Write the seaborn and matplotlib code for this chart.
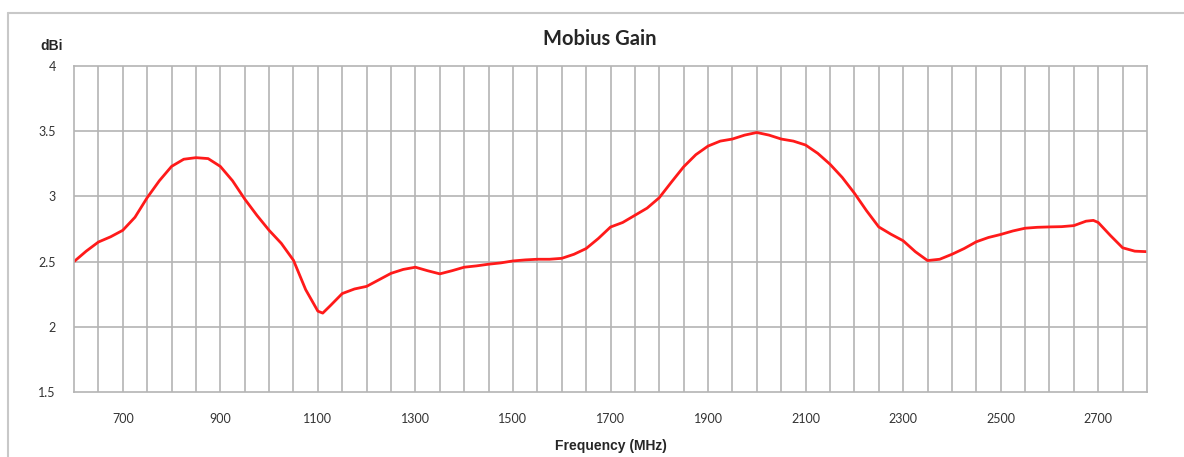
import numpy as np
import pandas as pd
import matplotlib
matplotlib.use("Agg")
import matplotlib.pyplot as plt
import seaborn as sns
from matplotlib.lines import Line2D

# values (MHz, dBi)
freq = [600, 625, 650, 675, 700, 725, 750, 775, 800, 825, 850, 875, 900, 925,
        950, 975, 1000, 1025, 1050, 1075, 1100, 1110, 1125, 1150, 1175, 1200,
        1225, 1250, 1275, 1300, 1325, 1350, 1375, 1400, 1425, 1450, 1475, 1500,
        1525, 1550, 1575, 1600, 1625, 1650, 1675, 1700, 1725, 1750, 1775, 1800,
        1825, 1850, 1875, 1900, 1925, 1950, 1975, 2000, 2025, 2050, 2075, 2100,
        2125, 2150, 2175, 2200, 2225, 2250, 2275, 2300, 2325, 2350, 2375, 2400,
        2425, 2450, 2475, 2500, 2525, 2550, 2575, 2600, 2625, 2650, 2675, 2690,
        2700, 2725, 2750, 2775, 2800]
gain = [2.50, 2.58, 2.65, 2.69, 2.74, 2.84, 2.99, 3.12, 3.23, 3.285, 3.297, 3.29, 3.23, 3.12,
        2.98, 2.855, 2.74, 2.64, 2.51, 2.285, 2.12, 2.105, 2.16, 2.255, 2.29, 2.31,
        2.36, 2.41, 2.44, 2.457, 2.43, 2.406, 2.43, 2.457, 2.467, 2.48, 2.49, 2.505,
        2.513, 2.518, 2.518, 2.525, 2.556, 2.60, 2.677, 2.765, 2.80, 2.855, 2.91, 2.99,
        3.11, 3.227, 3.32, 3.386, 3.424, 3.44, 3.47, 3.49, 3.47, 3.44, 3.424, 3.394,
        3.33, 3.247, 3.146, 3.025, 2.89, 2.766, 2.71, 2.66, 2.576, 2.508, 2.518, 2.556,
        2.60, 2.652, 2.685, 2.708, 2.735, 2.756, 2.763, 2.766, 2.768, 2.776, 2.81, 2.816,
        2.80, 2.70, 2.606, 2.58, 2.576]
xticks = [700, 900, 1100, 1300, 1500, 1700, 1900, 2100, 2300, 2500, 2700]
yticks = [1.5, 2, 2.5, 3, 3.5, 4]
ytick_labels = ["1.5", "2", "2.5", "3", "3.5", "4"]

df = pd.DataFrame({"freq": freq, "gain": gain})

sns.set_style("white")
plt.rcParams['font.family'] = ['Lato', 'DejaVu Sans']

fig = plt.figure(figsize=(11.84, 4.57), dpi=100)
ax = fig.add_axes([74 / 1184, 1 - 392 / 457, (1147 - 74) / 1184, (392 - 66) / 457])

grid_c = "#b4b4b4"
for xv in np.arange(650, 2800, 50):
    ax.axvline(xv, color=grid_c, lw=1.2, zorder=0)
for yv in yticks[1:-1]:
    ax.axhline(yv, color=grid_c, lw=1.2, zorder=0)

sns.lineplot(data=df, x="freq", y="gain", color="#ff1a1a", lw=2.0, ax=ax)

ax.set_xlim(600, 2800)
ax.set_ylim(1.5, 4)
ax.set_xticks(xticks)
ax.set_xticklabels([str(v) for v in xticks], fontsize=9, color="#333333")
ax.set_yticks(yticks)
ax.set_yticklabels(ytick_labels, fontsize=9, color="#333333")
ax.tick_params(axis="x", length=0, pad=15)
ax.tick_params(axis="y", length=0, pad=13)
for s in ax.spines.values():
    s.set_color(grid_c)
    s.set_linewidth(1.2)

ax.set_xlabel("Frequency (MHz)", family=["Liberation Sans", "DejaVu Sans"],
              fontweight="bold", fontsize=10, labelpad=10)
ax.set_ylabel("")
ax.set_title("Mobius Gain", fontweight="bold", fontsize=14.5, pad=15, x=0.49)
fig.text(40 / 1184, 1 - 46 / 457, "dBi", family=["Liberation Sans", "DejaVu Sans"],
         fontweight="bold", fontsize=10, va="center")

# chart border (top and left edges visible)
fig.add_artist(Line2D([8 / 1184, 1.0], [1 - 13 / 457, 1 - 13 / 457],
                      transform=fig.transFigure, color="#c8c8c8", lw=1.5))
fig.add_artist(Line2D([8 / 1184, 8 / 1184], [0.0, 1 - 13 / 457],
                      transform=fig.transFigure, color="#c8c8c8", lw=1.5))

fig.savefig("out.png", dpi=100)
